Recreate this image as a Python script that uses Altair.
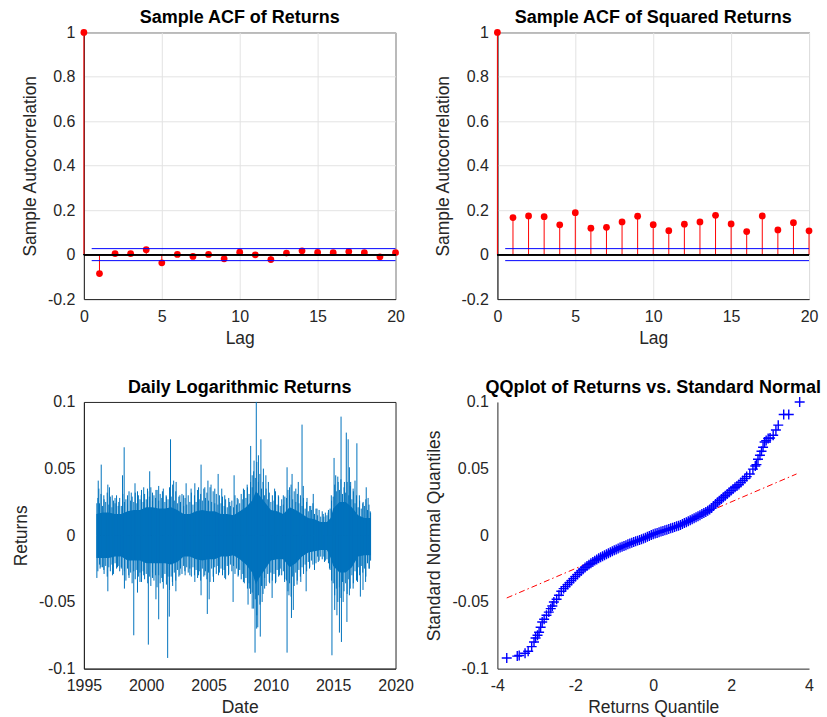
import altair as alt
import pandas as pd

# ---------------------------------------------------------------- data
lags = list(range(21))
acf_returns = [1.0, -0.085, 0.005, 0.005, 0.022, -0.037, 0.001, -0.008, 0.001,
               -0.019, 0.011, -0.001, -0.022, 0.007, 0.017, 0.010, 0.009, 0.014,
               0.009, -0.010, 0.009]
acf_squared = [1.0, 0.167, 0.174, 0.171, 0.134, 0.189, 0.119, 0.123, 0.147,
               0.173, 0.135, 0.108, 0.137, 0.147, 0.177, 0.138, 0.104, 0.174,
               0.111, 0.144, 0.107]
conf_bound = 0.027

# dense body of the daily return series (upper / lower edge)
core_years = [1996.0, 1996.5, 1997.0, 1997.5, 1998.0, 1998.5, 1999.0, 1999.5,
              2000.0, 2000.5, 2001.0, 2001.5, 2002.0, 2002.5, 2003.0, 2003.5,
              2004.0, 2004.5, 2005.0, 2005.5, 2006.0, 2006.5, 2007.0, 2007.5,
              2008.0, 2008.5, 2008.8, 2009.0, 2009.5, 2010.0, 2010.5, 2011.0,
              2011.5, 2012.0, 2012.5, 2013.0, 2013.5, 2014.0, 2014.5, 2014.8,
              2015.0, 2015.5, 2016.0, 2016.5, 2017.0, 2017.5, 2018.03]
core_hi = [0.016, 0.017, 0.017, 0.016, 0.016, 0.018, 0.019, 0.019,
           0.021, 0.021, 0.020, 0.020, 0.021, 0.019, 0.016, 0.016,
           0.018, 0.019, 0.018, 0.018, 0.016, 0.016, 0.015, 0.018,
           0.021, 0.026, 0.033, 0.031, 0.025, 0.019, 0.018, 0.016,
           0.021, 0.019, 0.016, 0.013, 0.012, 0.010, 0.010, 0.013,
           0.020, 0.025, 0.025, 0.021, 0.015, 0.013, 0.013]
core_lo = [-0.017, -0.017, -0.017, -0.016, -0.016, -0.019, -0.019, -0.019,
           -0.021, -0.021, -0.021, -0.021, -0.022, -0.020, -0.016, -0.016,
           -0.018, -0.019, -0.018, -0.018, -0.016, -0.016, -0.015, -0.018,
           -0.022, -0.028, -0.037, -0.033, -0.026, -0.019, -0.018, -0.018,
           -0.024, -0.021, -0.016, -0.013, -0.012, -0.011, -0.011, -0.017,
           -0.023, -0.028, -0.028, -0.024, -0.016, -0.015, -0.015]

# individual large daily moves
spike_up_years = [1996.04, 1996.15, 1996.2, 1996.39, 1996.6, 1996.92, 1997.05, 1997.27,
                  1997.5, 1997.8, 1998.1, 1998.23, 1998.5, 1998.8, 1999.1, 1999.3,
                  1999.6, 1999.8, 2000.1, 2000.28, 2000.5, 2000.78, 2001.0, 2001.3,
                  2001.6, 2001.95, 2002.2, 2002.4, 2002.7, 2003.0, 2003.2, 2003.6,
                  2003.9, 2004.2, 2004.4, 2004.7, 2004.95, 2005.2, 2005.5, 2005.77,
                  2006.06, 2006.3, 2006.7, 2007.05, 2007.3, 2007.8, 2008.1, 2008.38,
                  2008.5, 2008.65, 2008.83, 2009.0, 2009.2, 2009.4, 2009.6, 2009.8,
                  2010.3, 2010.6, 2011.0, 2011.3, 2011.5, 2011.7, 2012.0, 2012.2,
                  2012.5, 2012.6, 2012.9, 2013.2, 2013.4, 2013.7, 2014.2, 2014.6,
                  2014.85, 2015.07, 2015.2, 2015.4, 2015.63, 2015.9, 2016.05, 2016.2,
                  2016.3, 2016.4, 2016.6, 2016.75, 2016.9, 2017.1, 2017.4, 2017.65,
                  2017.8, 2017.97]
spike_up_values = [0.024, 0.041, 0.035, 0.053, 0.030, 0.038, 0.036, 0.030,
                   0.028, 0.025, 0.045, 0.066, 0.030, 0.032, 0.039, 0.033,
                   0.030, 0.036, 0.035, 0.048, 0.032, 0.034, 0.037, 0.033,
                   0.030, 0.072, 0.041, 0.040, 0.030, 0.030, 0.039, 0.035,
                   0.039, 0.036, 0.053, 0.036, 0.041, 0.038, 0.035, 0.046,
                   0.035, 0.030, 0.025, 0.045, 0.028, 0.035, 0.038, 0.067,
                   0.045, 0.056, 0.100, 0.060, 0.072, 0.050, 0.045, 0.040,
                   0.035, 0.030, 0.030, 0.051, 0.036, 0.046, 0.035, 0.040,
                   0.083, 0.037, 0.028, 0.022, 0.031, 0.020, 0.016, 0.017,
                   0.030, 0.058, 0.045, 0.040, 0.089, 0.040, 0.077, 0.072,
                   0.051, 0.040, 0.035, 0.041, 0.069, 0.030, 0.025, 0.036,
                   0.028, 0.018]
spike_dn_years = [1996.04, 1996.3, 1996.6, 1996.92, 1997.3, 1997.7, 1998.0, 1998.25,
                  1998.6, 1999.0, 1999.3, 1999.5, 1999.8, 2000.17, 2000.5, 2000.78,
                  2001.0, 2001.3, 2001.72, 2001.85, 2002.1, 2002.38, 2002.7, 2003.1,
                  2003.5, 2003.9, 2004.2, 2004.4, 2004.7, 2004.9, 2005.05, 2005.4,
                  2005.8, 2006.3, 2006.6, 2006.97, 2007.4, 2007.8, 2008.17, 2008.3,
                  2008.5, 2008.73, 2008.86, 2008.95, 2009.15, 2009.3, 2009.5, 2009.9,
                  2010.1, 2010.4, 2010.7, 2011.1, 2011.3, 2011.45, 2011.65, 2011.8,
                  2012.1, 2012.4, 2012.83, 2013.1, 2013.5, 2013.8, 2014.3, 2014.7,
                  2014.9, 2015.12, 2015.3, 2015.5, 2015.66, 2015.8, 2016.1, 2016.3,
                  2016.6, 2016.95, 2017.18, 2017.39, 2017.6, 2017.9]
spike_dn_values = [-0.032, -0.025, -0.026, -0.042, -0.030, -0.024, -0.025, -0.040,
                   -0.030, -0.075, -0.043, -0.035, -0.030, -0.082, -0.032, -0.048,
                   -0.063, -0.035, -0.092, -0.061, -0.035, -0.042, -0.030, -0.027,
                   -0.030, -0.035, -0.030, -0.045, -0.030, -0.059, -0.048, -0.035,
                   -0.030, -0.032, -0.030, -0.050, -0.030, -0.035, -0.052, -0.040,
                   -0.055, -0.088, -0.070, -0.069, -0.076, -0.050, -0.040, -0.036,
                   -0.047, -0.035, -0.030, -0.035, -0.088, -0.045, -0.062, -0.056,
                   -0.037, -0.035, -0.042, -0.025, -0.026, -0.020, -0.020, -0.025,
                   -0.090, -0.056, -0.060, -0.073, -0.080, -0.050, -0.065, -0.045,
                   -0.040, -0.035, -0.046, -0.041, -0.035, -0.025]

# ordinary daily moves that fray the edge of the body
fringe_up_years = [1996.12, 1996.37, 1996.62, 1996.87, 1997.12, 1997.37, 1997.62, 1997.87,
                   1998.12, 1998.37, 1998.62, 1998.87, 1999.12, 1999.37, 1999.62, 1999.87,
                   2000.12, 2000.37, 2000.62, 2000.87, 2001.12, 2001.37, 2001.62, 2001.87,
                   2002.12, 2002.37, 2002.62, 2002.87, 2003.12, 2003.37, 2003.62, 2003.87,
                   2004.12, 2004.37, 2004.62, 2004.87, 2005.12, 2005.37, 2005.62, 2005.87,
                   2006.12, 2006.37, 2006.62, 2006.87, 2007.12, 2007.37, 2007.62, 2007.87,
                   2008.12, 2008.37, 2008.62, 2008.87, 2009.12, 2009.37, 2009.62, 2009.87,
                   2010.12, 2010.37, 2010.62, 2010.87, 2011.12, 2011.37, 2011.62, 2011.87,
                   2012.12, 2012.37, 2012.62, 2012.87, 2013.12, 2013.37, 2013.62, 2013.87,
                   2014.12, 2014.37, 2014.62, 2014.87, 2015.12, 2015.37, 2015.62, 2015.87,
                   2016.12, 2016.37, 2016.62, 2016.87, 2017.12, 2017.37, 2017.62, 2017.87]
fringe_up_values = [0.028, 0.031, 0.027, 0.032, 0.029, 0.026, 0.030, 0.028,
                    0.031, 0.027, 0.033, 0.029, 0.032, 0.030, 0.034, 0.031,
                    0.033, 0.036, 0.030, 0.034, 0.031, 0.035, 0.029, 0.036,
                    0.038, 0.033, 0.029, 0.031, 0.028, 0.030, 0.032, 0.030,
                    0.034, 0.031, 0.035, 0.032, 0.036, 0.033, 0.031, 0.030,
                    0.029, 0.027, 0.028, 0.026, 0.030, 0.027, 0.031, 0.034,
                    0.036, 0.040, 0.048, 0.055, 0.046, 0.040, 0.035, 0.032,
                    0.030, 0.033, 0.029, 0.027, 0.029, 0.034, 0.038, 0.033,
                    0.031, 0.030, 0.028, 0.025, 0.022, 0.024, 0.020, 0.019,
                    0.018, 0.017, 0.019, 0.026, 0.038, 0.044, 0.042, 0.036,
                    0.040, 0.037, 0.033, 0.030, 0.026, 0.024, 0.027, 0.023]
fringe_dn_years = fringe_up_years
fringe_dn_values = [-0.027, -0.024, -0.029, -0.031, -0.027, -0.029, -0.025, -0.027,
                    -0.030, -0.034, -0.032, -0.036, -0.033, -0.031, -0.035, -0.033,
                    -0.036, -0.038, -0.034, -0.039, -0.036, -0.040, -0.037, -0.041,
                    -0.038, -0.034, -0.031, -0.029, -0.030, -0.028, -0.031, -0.030,
                    -0.032, -0.034, -0.031, -0.033, -0.035, -0.031, -0.029, -0.028,
                    -0.030, -0.033, -0.029, -0.027, -0.029, -0.031, -0.033, -0.036,
                    -0.040, -0.044, -0.055, -0.060, -0.052, -0.044, -0.038, -0.035,
                    -0.034, -0.036, -0.031, -0.030, -0.033, -0.042, -0.046, -0.038,
                    -0.034, -0.031, -0.029, -0.027, -0.024, -0.022, -0.021, -0.019,
                    -0.018, -0.019, -0.021, -0.034, -0.045, -0.050, -0.047, -0.042,
                    -0.044, -0.040, -0.036, -0.034, -0.030, -0.028, -0.031, -0.025]

# smaller moves sitting just outside the body
edge_years = [1996.25, 1996.5, 1996.75,
              1997.0, 1997.25, 1997.5, 1997.75, 1998.0, 1998.25, 1998.5, 1998.75,
              1999.0, 1999.25, 1999.5, 1999.75, 2000.0, 2000.25, 2000.5, 2000.75,
              2001.0, 2001.25, 2001.5, 2001.75, 2002.0, 2002.25, 2002.5, 2002.75,
              2003.0, 2003.25, 2003.5, 2003.75, 2004.0, 2004.25, 2004.5, 2004.75,
              2005.0, 2005.25, 2005.5, 2005.75, 2006.0, 2006.25, 2006.5, 2006.75,
              2007.0, 2007.25, 2007.5, 2007.75, 2008.0, 2008.25, 2008.5, 2008.75,
              2009.0, 2009.25, 2009.5, 2009.75, 2010.0, 2010.25, 2010.5, 2010.75,
              2011.0, 2011.25, 2011.5, 2011.75, 2012.0, 2012.25, 2012.5, 2012.75,
              2013.0, 2013.25, 2013.5, 2013.75, 2014.0, 2014.25, 2014.5, 2014.75,
              2015.0, 2015.25, 2015.5, 2015.75, 2016.0, 2016.25, 2016.5, 2016.75,
              2017.0, 2017.25, 2017.5, 2017.75, 2018.0]
edge_up_values = [0.024, 0.022, 0.025,
                  0.023, 0.021, 0.024, 0.022, 0.022, 0.025, 0.023, 0.026,
                  0.025, 0.024, 0.027, 0.025, 0.027, 0.029, 0.026, 0.028,
                  0.026, 0.028, 0.025, 0.027, 0.029, 0.026, 0.024, 0.025,
                  0.022, 0.023, 0.025, 0.023, 0.025, 0.027, 0.026, 0.028,
                  0.026, 0.025, 0.024, 0.023, 0.024, 0.022, 0.021, 0.022,
                  0.021, 0.023, 0.024, 0.027, 0.028, 0.031, 0.036, 0.043,
                  0.040, 0.035, 0.030, 0.027, 0.025, 0.026, 0.023, 0.022,
                  0.023, 0.028, 0.030, 0.027, 0.025, 0.024, 0.022, 0.020,
                  0.018, 0.019, 0.016, 0.015, 0.014, 0.014, 0.015, 0.020,
                  0.029, 0.033, 0.034, 0.031, 0.032, 0.030, 0.027, 0.024,
                  0.021, 0.020, 0.022, 0.019, 0.017]
edge_dn_values = [-0.022, -0.024, -0.023,
                  -0.024, -0.022, -0.021, -0.023, -0.024, -0.027, -0.025, -0.028,
                  -0.027, -0.026, -0.028, -0.027, -0.029, -0.031, -0.028, -0.030,
                  -0.030, -0.032, -0.029, -0.031, -0.031, -0.028, -0.026, -0.025,
                  -0.023, -0.024, -0.025, -0.024, -0.026, -0.027, -0.025, -0.027,
                  -0.028, -0.025, -0.024, -0.023, -0.025, -0.026, -0.023, -0.022,
                  -0.023, -0.025, -0.026, -0.029, -0.032, -0.036, -0.043, -0.048,
                  -0.045, -0.038, -0.032, -0.029, -0.028, -0.029, -0.026, -0.025,
                  -0.027, -0.034, -0.036, -0.031, -0.028, -0.026, -0.024, -0.022,
                  -0.020, -0.019, -0.018, -0.016, -0.016, -0.016, -0.018, -0.026,
                  -0.036, -0.040, -0.039, -0.035, -0.036, -0.033, -0.030, -0.027,
                  -0.024, -0.023, -0.025, -0.021, -0.019]

# quantile-quantile pairs (normal quantile, sample quantile)
qq_theoretical = [-3.76, -3.49, -3.44, -3.29, -3.21, -3.12, -3.06, -3.02, -2.97, -2.93,
                  -2.89, -2.85, -2.80, -2.74, -2.68, -2.63, -2.59, -2.55, -2.48, -2.42,
                  -2.36, -2.3, -2.25, -2.2, -2.15, -2.1, -2.05, -2.0, -1.95, -1.9,
                  -1.85, -1.8, -1.75, -1.7, -1.65, -1.6, -1.55, -1.5, -1.45, -1.4,
                  -1.35, -1.3, -1.25, -1.2, -1.15, -1.1, -1.05, -1.0, -0.95, -0.9,
                  -0.85, -0.8, -0.75, -0.7, -0.65, -0.6, -0.55, -0.5, -0.45, -0.4,
                  -0.35, -0.3, -0.25, -0.2, -0.15, -0.1, -0.05, 0.0, 0.05, 0.1,
                  0.15, 0.2, 0.25, 0.3, 0.35, 0.4, 0.45, 0.5, 0.55, 0.6,
                  0.65, 0.7, 0.75, 0.8, 0.85, 0.9, 0.95, 1.0, 1.05, 1.1,
                  1.15, 1.2, 1.25, 1.3, 1.35, 1.4, 1.45, 1.5, 1.55, 1.6,
                  1.65, 1.7, 1.75, 1.8, 1.85, 1.9, 1.95, 2.0, 2.05, 2.1,
                  2.15, 2.2, 2.25, 2.3, 2.35, 2.4, 2.48, 2.56, 2.62, 2.65,
                  2.69, 2.74, 2.78, 2.82, 2.86, 2.9, 2.95, 3.0, 3.08, 3.15,
                  3.21, 3.35, 3.48, 3.76]
qq_sample = [-0.092, -0.0906, -0.0902, -0.0885, -0.087, -0.0835, -0.080, -0.077, -0.075, -0.0727,
             -0.069, -0.065, -0.063, -0.060, -0.0576, -0.055, -0.053, -0.050, -0.048, -0.045,
             -0.042, -0.040, -0.0385, -0.037, -0.0355, -0.034, -0.0325, -0.031, -0.0295, -0.028,
             -0.0267, -0.0255, -0.0242, -0.023, -0.022, -0.021, -0.020, -0.019, -0.0181, -0.0172,
             -0.0164, -0.0157, -0.0150, -0.0143, -0.0135, -0.0128, -0.0120, -0.0113, -0.0106, -0.0099,
             -0.0092, -0.0086, -0.0080, -0.0074, -0.0068, -0.0062, -0.0056, -0.0050, -0.0045, -0.0040,
             -0.0035, -0.0030, -0.0024, -0.0018, -0.0011, -0.0005, 0.0002, 0.0008, 0.0013, 0.0018,
             0.0023, 0.0028, 0.0033, 0.0038, 0.0042, 0.0047, 0.0052, 0.0057, 0.0062, 0.0067,
             0.0072, 0.0078, 0.0085, 0.0092, 0.0098, 0.0105, 0.0112, 0.0120, 0.0128, 0.0136,
             0.0143, 0.0151, 0.0159, 0.0167, 0.0175, 0.0184, 0.0194, 0.0205, 0.0220, 0.0235,
             0.0248, 0.0260, 0.0272, 0.0285, 0.0297, 0.0310, 0.0322, 0.0335, 0.0348, 0.0360,
             0.0370, 0.0380, 0.0395, 0.0410, 0.0425, 0.0440, 0.0460, 0.0496, 0.0520, 0.0530,
             0.0570, 0.0600, 0.0630, 0.0660, 0.0700, 0.0710, 0.0726, 0.0730, 0.0750, 0.0790,
             0.0826, 0.0906, 0.0906, 0.1000]
qq_line_x = [-3.76, 3.68]
qq_line_y = [-0.047, 0.046]

# ---------------------------------------------------------------- style
FONT = "Liberation Sans"
INK = "#262626"
RED = "#ff0000"
BLUE = "#0000ff"
SERIES_BLUE = "#0072bd"
PANEL_W, PANEL_H = 312, 267
PLAIN = "'' + datum.value"


def title(text):
    return alt.TitleParams(text=text, font=FONT, fontSize=18, fontWeight="bold",
                           color="black", anchor="middle", offset=-3)


def acf_panel(values, heading):
    df = pd.DataFrame({"lag": lags, "acf": values})
    x_enc = alt.X("lag:Q", scale=alt.Scale(domain=[0, 20], nice=False),
                  axis=alt.Axis(values=[0, 5, 10, 15, 20], title="Lag",
                                grid=True, labelExpr=PLAIN))
    y_enc = alt.Y("acf:Q", scale=alt.Scale(domain=[-0.2, 1], nice=False),
                  axis=alt.Axis(values=[-0.2, 0, 0.2, 0.4, 0.6, 0.8, 1],
                                title="Sample Autocorrelation", grid=True,
                                labelExpr=PLAIN))
    stems = alt.Chart(df).mark_rule(color=RED, strokeWidth=1).encode(
        x=x_enc, y=y_enc, y2=alt.datum(0))
    dots = alt.Chart(df).mark_circle(color=RED, size=46, opacity=1).encode(
        x="lag:Q", y="acf:Q")
    zero = alt.Chart(df).mark_rule(color="black", strokeWidth=1).encode(
        y=alt.datum(0), x=alt.datum(0), x2=alt.datum(20))
    bounds_df = pd.DataFrame({"acf": [conf_bound, -conf_bound]})
    bounds = alt.Chart(bounds_df).mark_rule(color=BLUE, strokeWidth=1).encode(
        y="acf:Q", x=alt.datum(0.5), x2=alt.datum(20))
    return alt.layer(stems, dots, zero, bounds).properties(
        width=PANEL_W, height=PANEL_H, title=title(heading))


acf_ret = acf_panel(acf_returns, "Sample ACF of Returns")
acf_sq = acf_panel(acf_squared, "Sample ACF of Squared Returns")

# daily log returns: dense body as an area, individual moves as vertical strokes
x_year = alt.X("year:Q", scale=alt.Scale(domain=[1995, 2020], nice=False),
               axis=alt.Axis(values=[1995, 2000, 2005, 2010, 2015, 2020],
                             title="Date", grid=False, labelExpr=PLAIN))
y_ret = alt.Y("ret:Q", scale=alt.Scale(domain=[-0.1, 0.1], nice=False),
              axis=alt.Axis(values=[-0.1, -0.05, 0, 0.05, 0.1], title="Returns",
                            grid=False, labelExpr=PLAIN))
core_df = pd.DataFrame({"year": core_years, "ret": core_hi, "ret_lo": core_lo})
moves_df = pd.DataFrame({
    "year": (spike_up_years + spike_dn_years + fringe_up_years + fringe_dn_years
             + edge_years + edge_years),
    "ret": (spike_up_values + spike_dn_values + fringe_up_values + fringe_dn_values
            + edge_up_values + edge_dn_values),
})
body = alt.Chart(core_df).mark_area(color=SERIES_BLUE, opacity=1).encode(
    x=x_year, y=y_ret, y2="ret_lo:Q")
moves = alt.Chart(moves_df).mark_rule(color=SERIES_BLUE, strokeWidth=1).encode(
    x="year:Q", y="ret:Q", y2=alt.datum(0))
returns = alt.layer(body, moves).properties(
    width=PANEL_W, height=PANEL_H, title=title("Daily Logarithmic Returns"))

# QQ plot
qq_df = pd.DataFrame({"q": qq_theoretical, "s": qq_sample})
line_df = pd.DataFrame({"q": qq_line_x, "s": qq_line_y})
x_q = alt.X("q:Q", scale=alt.Scale(domain=[-4, 4], nice=False),
            axis=alt.Axis(values=[-4, -2, 0, 2, 4], title="Returns Quantile",
                          grid=False, labelExpr=PLAIN))
y_q = alt.Y("s:Q", scale=alt.Scale(domain=[-0.1, 0.1], nice=False),
            axis=alt.Axis(values=[-0.1, -0.05, 0, 0.05, 0.1],
                          title="Standard Normal Quantiles", grid=False,
                          labelExpr=PLAIN))
ref_line = alt.Chart(line_df).mark_line(color=RED, strokeWidth=1,
                                        strokeDash=[6, 3, 1.5, 3]).encode(x=x_q, y=y_q)
pluses = alt.Chart(qq_df).mark_point(shape="M-1,0L1,0M0,-1L0,1", filled=False,
                                     color=BLUE, strokeWidth=1.4, size=100,
                                     opacity=1).encode(x="q:Q", y="s:Q")
qq = alt.layer(ref_line, pluses).properties(
    width=PANEL_W, height=PANEL_H, title=title("QQplot of Returns vs. Standard Normal"),
    view=alt.ViewBackground(strokeOpacity=0))

chart = alt.concat(
    acf_ret, acf_sq, returns, qq,
    columns=2, spacing={"row": 103, "column": 102}, bounds="flush",
).properties(
    padding={"left": 12, "top": 8, "right": 5, "bottom": 2},
).configure_axis(
    labelFont=FONT, labelFontSize=16, labelColor=INK, labelPadding=9,
    labelFlush=False, labelOverlap=False,
    titleFont=FONT, titleFontSize=17.5, titleFontWeight="normal", titleColor=INK,
    titlePadding=8, domainColor=INK, domainWidth=1, ticks=False,
    gridColor="#e3e3e3", gridWidth=1,
).configure_axisX(
    titlePadding=5,
).configure_view(
    stroke=INK, strokeWidth=1,
)

chart.save("out.html", embed_options={"renderer": "svg", "actions": False})
